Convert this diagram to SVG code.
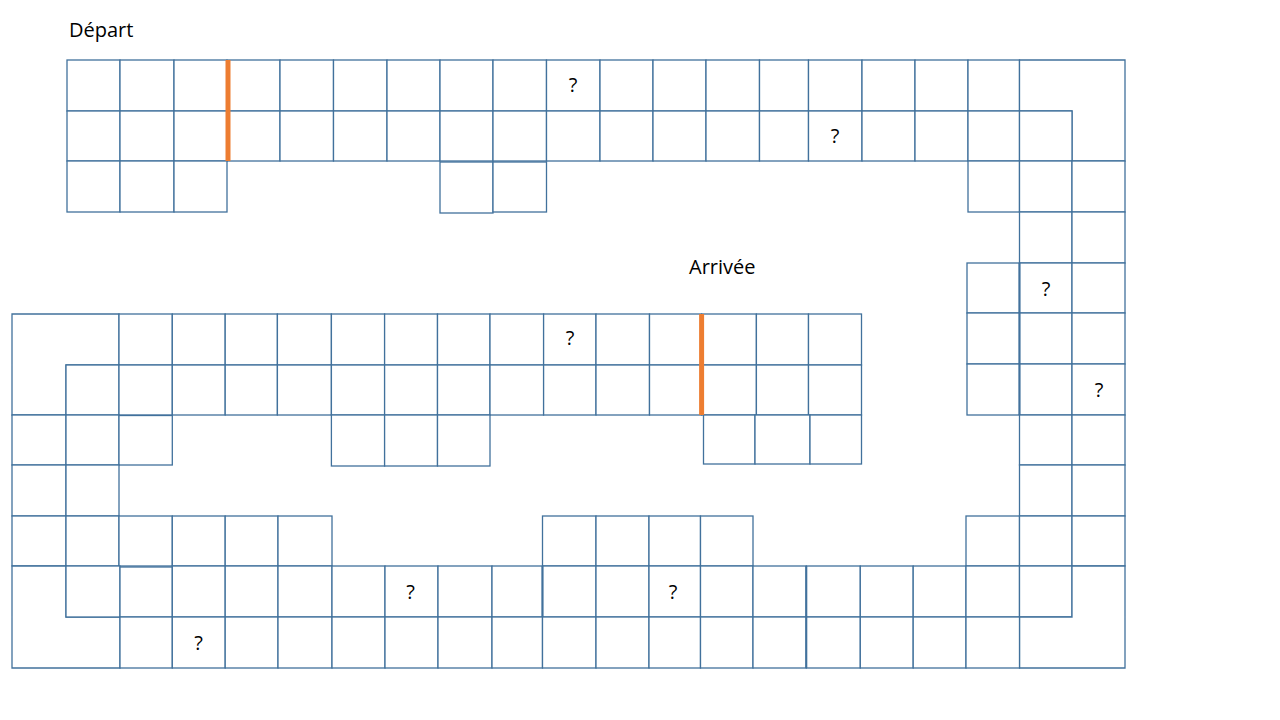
<svg xmlns="http://www.w3.org/2000/svg" width="1280" height="720" viewBox="0 0 1280 720">
<style>
.c{fill:#fff;stroke:#41719C;stroke-width:1.3}
.t{font-family:"Open Sans","Noto Sans","Liberation Sans",sans-serif;font-size:20px;fill:#000}
.q{font-family:"Open Sans","Noto Sans","Liberation Sans",sans-serif;font-size:20px;fill:#000;text-anchor:middle}
.o{stroke:#ED7D31;stroke-width:5;fill:none}
</style>
<rect width="1280" height="720" fill="#fff"/>
<g id="labels">
<text class="t" x="69" y="37">Départ</text>
<text class="t" x="689" y="274">Arrivée</text>
</g>
<g id="top-row1">
<rect class="c" x="67" y="60" width="53" height="51"/>
<rect class="c" x="120" y="60" width="54" height="51"/>
<rect class="c" x="174" y="60" width="53" height="51"/>
<rect class="c" x="227" y="60" width="53" height="51"/>
<rect class="c" x="280" y="60" width="53.5" height="51"/>
<rect class="c" x="333.5" y="60" width="53.5" height="51"/>
<rect class="c" x="387" y="60" width="53" height="51"/>
<rect class="c" x="440" y="60" width="53" height="51"/>
<rect class="c" x="493" y="60" width="53.5" height="51"/>
<rect class="c" x="546.5" y="60" width="53.5" height="51"/>
<rect class="c" x="600" y="60" width="53" height="51"/>
<rect class="c" x="653" y="60" width="53" height="51"/>
<rect class="c" x="706" y="60" width="53.5" height="51"/>
<rect class="c" x="759.5" y="60" width="49" height="51"/>
<rect class="c" x="808.5" y="60" width="53.5" height="51"/>
<rect class="c" x="862" y="60" width="53" height="51"/>
<rect class="c" x="915" y="60" width="53" height="51"/>
<rect class="c" x="968" y="60" width="51.5" height="51"/>
<path class="c" d="M1019.5,60H1125V161H1072V111H1019.5Z"/>
</g>
<g id="top-row2">
<rect class="c" x="67" y="111" width="53" height="50"/>
<rect class="c" x="120" y="111" width="54" height="50"/>
<rect class="c" x="174" y="111" width="53" height="50"/>
<rect class="c" x="227" y="111" width="53" height="50"/>
<rect class="c" x="280" y="111" width="53.5" height="50"/>
<rect class="c" x="333.5" y="111" width="53.5" height="50"/>
<rect class="c" x="387" y="111" width="53" height="50"/>
<rect class="c" x="440" y="111" width="53" height="50"/>
<rect class="c" x="493" y="111" width="53.5" height="50"/>
<rect class="c" x="546.5" y="111" width="53.5" height="50"/>
<rect class="c" x="600" y="111" width="53" height="50"/>
<rect class="c" x="653" y="111" width="53" height="50"/>
<rect class="c" x="706" y="111" width="53.5" height="50"/>
<rect class="c" x="759.5" y="111" width="49" height="50"/>
<rect class="c" x="808.5" y="111" width="53.5" height="50"/>
<rect class="c" x="862" y="111" width="53" height="50"/>
<rect class="c" x="915" y="111" width="53" height="50"/>
<rect class="c" x="968" y="111" width="51.5" height="50"/>
<rect class="c" x="1019.5" y="111" width="52.5" height="50"/>
</g>
<g id="top-row3">
<rect class="c" x="67" y="161" width="53" height="51"/>
<rect class="c" x="120" y="161" width="54" height="51"/>
<rect class="c" x="174" y="161" width="53" height="51"/>
<rect class="c" x="440" y="162" width="53" height="51"/>
<rect class="c" x="493" y="162" width="53.5" height="50"/>
<rect class="c" x="968" y="161" width="51.5" height="51"/>
<rect class="c" x="1019.5" y="161" width="52.5" height="51"/>
<rect class="c" x="1072" y="161" width="53" height="51"/>
</g>
<g id="right-column">
<rect class="c" x="1019.5" y="212" width="52.5" height="51"/>
<rect class="c" x="1072" y="212" width="53" height="51"/>
<rect class="c" x="967" y="263" width="52.5" height="50"/>
<rect class="c" x="1019.5" y="263" width="52.5" height="50"/>
<rect class="c" x="1072" y="263" width="53" height="50"/>
<rect class="c" x="967" y="313" width="52.5" height="51"/>
<rect class="c" x="1019.5" y="313" width="52.5" height="51"/>
<rect class="c" x="1072" y="313" width="53" height="51"/>
<rect class="c" x="967" y="364" width="52.5" height="51"/>
<rect class="c" x="1019.5" y="364" width="52.5" height="51"/>
<rect class="c" x="1072" y="364" width="53" height="51"/>
<rect class="c" x="1019.5" y="415" width="52.5" height="50"/>
<rect class="c" x="1072" y="415" width="53" height="50"/>
<rect class="c" x="1019.5" y="465" width="52.5" height="51"/>
<rect class="c" x="1072" y="465" width="53" height="51"/>
</g>
<g id="mid-rowA">
<path class="c" d="M12,314H119V365H66V415H12Z"/>
<rect class="c" x="119" y="314" width="53.3" height="51"/>
<rect class="c" x="172.3" y="314" width="52.9" height="51"/>
<rect class="c" x="225.2" y="314" width="52.2" height="51"/>
<rect class="c" x="277.4" y="314" width="54" height="51"/>
<rect class="c" x="331.4" y="314" width="53.2" height="51"/>
<rect class="c" x="384.6" y="314" width="52.9" height="51"/>
<rect class="c" x="437.5" y="314" width="52.5" height="51"/>
<rect class="c" x="490" y="314" width="53.6" height="51"/>
<rect class="c" x="543.6" y="314" width="52.4" height="51"/>
<rect class="c" x="596" y="314" width="53.5" height="51"/>
<rect class="c" x="649.5" y="314" width="52.1" height="51"/>
<rect class="c" x="701.6" y="314" width="54.8" height="51"/>
<rect class="c" x="756.4" y="314" width="52.1" height="51"/>
<rect class="c" x="808.5" y="314" width="53" height="51"/>
</g>
<g id="mid-rowB">
<rect class="c" x="66" y="365" width="53" height="50"/>
<rect class="c" x="119" y="365" width="53.3" height="50"/>
<rect class="c" x="172.3" y="365" width="52.9" height="50"/>
<rect class="c" x="225.2" y="365" width="52.2" height="50"/>
<rect class="c" x="277.4" y="365" width="54" height="50"/>
<rect class="c" x="331.4" y="365" width="53.2" height="50"/>
<rect class="c" x="384.6" y="365" width="52.9" height="50"/>
<rect class="c" x="437.5" y="365" width="52.5" height="50"/>
<rect class="c" x="490" y="365" width="53.6" height="50"/>
<rect class="c" x="543.6" y="365" width="52.4" height="50"/>
<rect class="c" x="596" y="365" width="53.5" height="50"/>
<rect class="c" x="649.5" y="365" width="52.1" height="50"/>
<rect class="c" x="701.6" y="365" width="54.8" height="50"/>
<rect class="c" x="756.4" y="365" width="52.1" height="50"/>
<rect class="c" x="808.5" y="365" width="53" height="50"/>
</g>
<g id="mid-rowC">
<rect class="c" x="12" y="415" width="54" height="50"/>
<rect class="c" x="66" y="415" width="53" height="50"/>
<rect class="c" x="119" y="415.5" width="53.3" height="49.5" stroke-width="1.8"/>
<rect class="c" x="331.4" y="415" width="53.2" height="51"/>
<rect class="c" x="384.6" y="415" width="52.9" height="51"/>
<rect class="c" x="437.5" y="415" width="52.5" height="51"/>
<rect class="c" x="703.5" y="415" width="51.5" height="49"/>
<rect class="c" x="755" y="415" width="55" height="49"/>
<rect class="c" x="810" y="415" width="51.5" height="49"/>
</g>
<g id="mid-rowD">
<rect class="c" x="12" y="465" width="54" height="51"/>
<rect class="c" x="66" y="465" width="53" height="51"/>
</g>
<g id="bottom-rowE">
<rect class="c" x="12" y="516" width="54" height="50"/>
<rect class="c" x="66" y="516" width="53" height="50"/>
<rect class="c" x="119" y="516" width="53.3" height="50"/>
<rect class="c" x="172.3" y="516" width="52.9" height="50"/>
<rect class="c" x="225.2" y="516" width="52.8" height="50"/>
<rect class="c" x="278" y="516" width="54" height="50"/>
<rect class="c" x="542.5" y="516" width="53.5" height="50"/>
<rect class="c" x="596" y="516" width="53" height="50"/>
<rect class="c" x="649" y="516" width="51.5" height="50"/>
<rect class="c" x="700.5" y="516" width="52.5" height="50"/>
<rect class="c" x="966" y="516" width="53.5" height="50"/>
<rect class="c" x="1019.5" y="516" width="52.5" height="50"/>
<rect class="c" x="1072" y="516" width="53" height="50"/>
</g>
<g id="bottom-rowF">
<path class="c" d="M12,566H66V617H120V668H12Z"/>
<rect class="c" x="66" y="566" width="54" height="51"/>
<rect class="c" x="120" y="567" width="52.3" height="50" stroke-width="1.8"/>
<rect class="c" x="172.3" y="566" width="52.9" height="51"/>
<rect class="c" x="225.2" y="566" width="52.8" height="51"/>
<rect class="c" x="278" y="566" width="54" height="51"/>
<rect class="c" x="332" y="566" width="53" height="51"/>
<rect class="c" x="385" y="566" width="53" height="51"/>
<rect class="c" x="438" y="566" width="54" height="51"/>
<rect class="c" x="492" y="566" width="50.5" height="51"/>
<rect class="c" x="542.5" y="566" width="53.5" height="51"/>
<rect class="c" x="596" y="566" width="53" height="51"/>
<rect class="c" x="649" y="566" width="51.5" height="51"/>
<rect class="c" x="700.5" y="566" width="52.5" height="51"/>
<rect class="c" x="753" y="566" width="53.3" height="51"/>
<rect class="c" x="806.3" y="566" width="54" height="51"/>
<rect class="c" x="860.3" y="566" width="52.9" height="51"/>
<rect class="c" x="913.2" y="566" width="52.8" height="51"/>
<rect class="c" x="966" y="566" width="53.5" height="51"/>
<rect class="c" x="1019.5" y="566" width="52.5" height="51"/>
<path class="c" d="M1072,566H1125V668H1019.5V617H1072Z"/>
</g>
<g id="bottom-rowG">
<rect class="c" x="120" y="617" width="52.3" height="51"/>
<rect class="c" x="172.3" y="617" width="52.9" height="51"/>
<rect class="c" x="225.2" y="617" width="52.8" height="51"/>
<rect class="c" x="278" y="617" width="54" height="51"/>
<rect class="c" x="332" y="617" width="53" height="51"/>
<rect class="c" x="385" y="617" width="53" height="51"/>
<rect class="c" x="438" y="617" width="54" height="51"/>
<rect class="c" x="492" y="617" width="50.5" height="51"/>
<rect class="c" x="542.5" y="617" width="53.5" height="51"/>
<rect class="c" x="596" y="617" width="53" height="51"/>
<rect class="c" x="649" y="617" width="51.5" height="51"/>
<rect class="c" x="700.5" y="617" width="52.5" height="51"/>
<rect class="c" x="753" y="617" width="53.3" height="51"/>
<rect class="c" x="806.3" y="617" width="54" height="51"/>
<rect class="c" x="860.3" y="617" width="52.9" height="51"/>
<rect class="c" x="913.2" y="617" width="52.8" height="51"/>
<rect class="c" x="966" y="617" width="53.5" height="51"/>
</g>
<g id="thick-lines">
<path d="M806.3,566V668M1019.5,263V415M542.5,566V617" stroke="#41719C" stroke-width="2" fill="none"/>
</g>
<g id="barriers">
<path class="o" d="M228,60V161"/>
<path class="o" d="M701.6,314V415"/>
</g>
<g id="question-marks">
<text class="q" x="573" y="92">?</text>
<text class="q" x="835" y="143">?</text>
<text class="q" x="570" y="345">?</text>
<text class="q" x="1046" y="296">?</text>
<text class="q" x="1099" y="397">?</text>
<text class="q" x="410.5" y="599">?</text>
<text class="q" x="673" y="599">?</text>
<text class="q" x="198.5" y="650">?</text>
</g>
</svg>
